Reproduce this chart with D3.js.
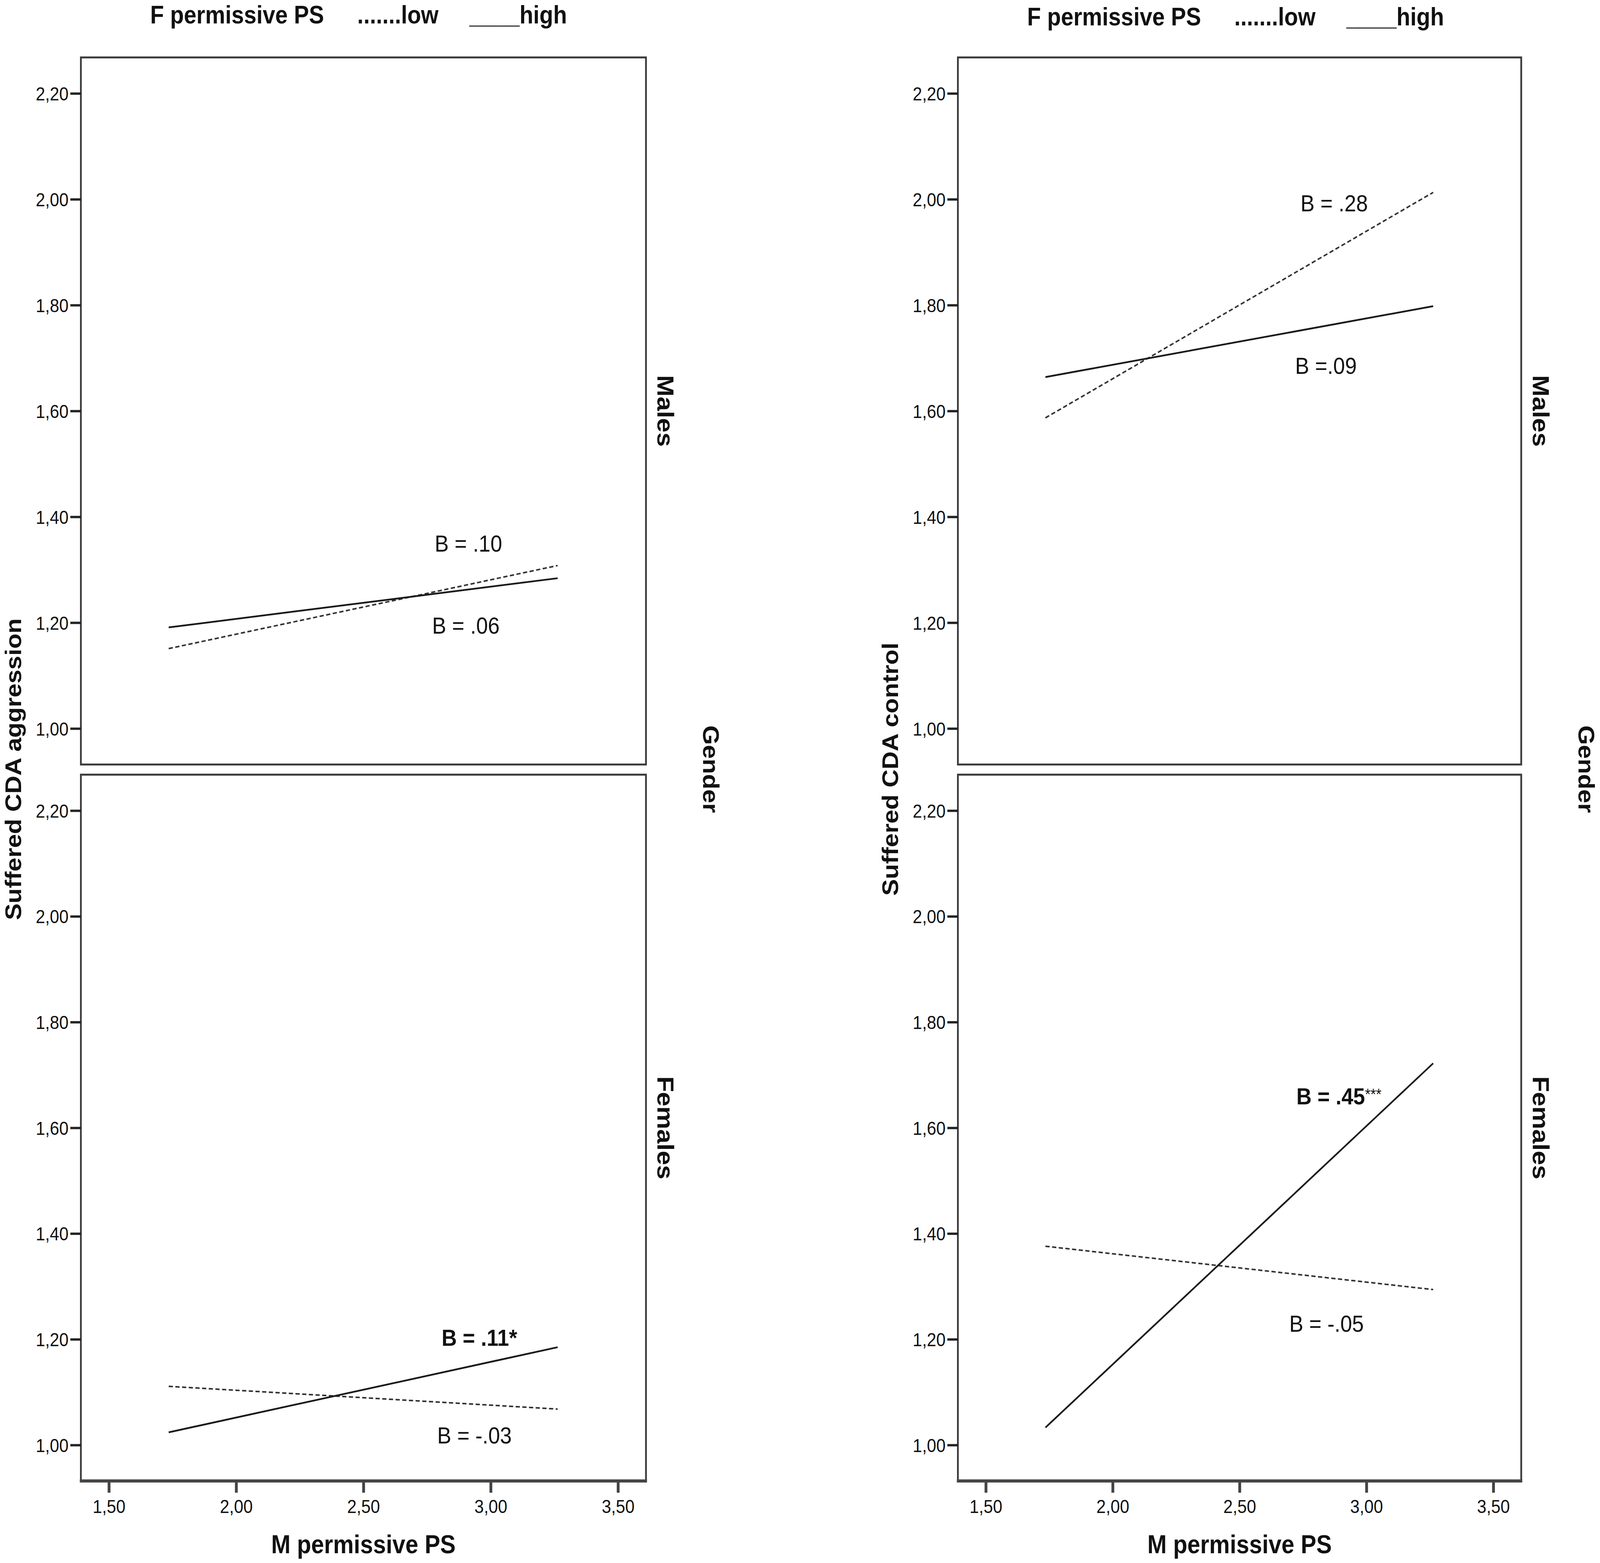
<!DOCTYPE html>
<html>
<head>
<meta charset="utf-8">
<script src="https://cdn.jsdelivr.net/npm/d3@7"></script>
<style>
  html, body { margin: 0; padding: 0; background: #fff; overflow: hidden; }
  svg { display: block; width: 100vw; height: 100vh; }
  svg text { font-family: Arial, "Liberation Sans", sans-serif; fill: #111; }
</style>
</head>
<body>
<svg id="chart"></svg>
<script>
// ---------------- data ----------------
var xTicks = [1.5, 2.0, 2.5, 3.0, 3.5];
var yTicks = [1.0, 1.2, 1.4, 1.6, 1.8, 2.0, 2.2];
var outcomes = ["Suffered CDA aggression", "Suffered CDA control"];
var genders = ["Males", "Females"];
var xTitle = "M permissive PS";
var facetTitle = "Gender";
var legendTitle = "F permissive PS";
var legendLow = ".......low";
var legendHigh = "____high";

// M permissive PS at low (-1 SD) and high (+1 SD)
var mPermissive = [1.735, 3.263];

// predicted outcome at the two M permissive PS values
var aggrMalesLow    = [1.151, 1.308];
var aggrMalesHigh   = [1.191, 1.284];
var aggrFemalesLow  = [1.111, 1.068];
var aggrFemalesHigh = [1.024, 1.185];
var ctrlMalesLow    = [1.587, 2.013];
var ctrlMalesHigh   = [1.664, 1.798];
var ctrlFemalesLow  = [1.376, 1.294];
var ctrlFemalesHigh = [1.033, 1.722];

// slope labels: [column, row, text, stars, bold, x (M PS), y (outcome)]
var slopeNotes = [
  [0, 0, "B = .10", "", false, 2.780, 1.334],
  [0, 0, "B = .06", "", false, 2.770, 1.179],
  [0, 1, "B = .11*", "", true, 2.807, 1.188],
  [0, 1, "B = -.03", "", false, 2.790, 1.003],
  [1, 0, "B = .28", "", false, 2.740, 1.977],
  [1, 0, "B =.09", "", false, 2.719, 1.670],
  [1, 1, "B = .45", "***", true, 2.724, 1.644],
  [1, 1, "B = -.05", "", false, 2.696, 1.214]
];

var series = [
  [aggrMalesLow, aggrMalesHigh, aggrFemalesLow, aggrFemalesHigh],
  [ctrlMalesLow, ctrlMalesHigh, ctrlFemalesLow, ctrlFemalesHigh]
];

// ---------------- layout ----------------
// drawn in a 4550 x 4001 space, stretched onto whatever the window gives
var W = 4550, H = 4001;
var colX = [[230, 1837], [2724, 4326]];
var rowY = [[147, 1957], [1983, 3791]];
var legendBase = [60, 65];

var svg = d3.select("#chart")
  .attr("viewBox", "0 0 " + W + " " + H)
  .attr("preserveAspectRatio", "none");
svg.append("rect").attr("width", W).attr("height", H).attr("fill", "#fff");

var fmt = function (d) { return d3.format(".2f")(d).replace(".", ","); };

colX.forEach(function (cx, c) {
  var x = d3.scaleLinear().domain([1.39, 3.61]).range(cx);

  rowY.forEach(function (ry, r) {
    var y = d3.scaleLinear().domain([0.932, 2.268]).range([ry[1], ry[0]]);
    var g = svg.append("g");

    // frame
    g.append("rect")
      .attr("x", cx[0]).attr("y", ry[0])
      .attr("width", cx[1] - cx[0]).attr("height", ry[1] - ry[0])
      .attr("fill", "none").attr("stroke", "#3a3a3a").attr("stroke-width", 5);

    // y axis
    var ya = g.append("g").attr("transform", "translate(" + cx[0] + ",0)")
      .call(d3.axisLeft(y).tickValues(yTicks).tickSize(30).tickPadding(5).tickFormat(fmt));
    ya.select(".domain").remove();
    ya.selectAll(".tick line").attr("stroke", "#222").attr("stroke-width", 6);
    ya.selectAll(".tick text").attr("font-size", 48).attr("fill", "#111")
      .attr("font-family", "Arial, 'Liberation Sans', sans-serif").attr("dy", "0.36em");

    // x axis on the bottom row
    if (r == 1) {
      var xa = g.append("g").attr("transform", "translate(0," + ry[1] + ")")
        .call(d3.axisBottom(x).tickValues(xTicks).tickSize(30).tickPadding(18).tickFormat(fmt));
      xa.select(".domain").remove();
      xa.selectAll(".tick line").attr("stroke", "#444").attr("stroke-width", 8);
      xa.selectAll(".tick text").attr("font-size", 48).attr("fill", "#111")
        .attr("font-family", "Arial, 'Liberation Sans', sans-serif");
      g.append("line")
        .attr("x1", cx[0] - 3).attr("x2", cx[1] + 3)
        .attr("y1", ry[1]).attr("y2", ry[1])
        .attr("stroke", "#454545").attr("stroke-width", 8);
    }

    // lines: low = dashed, high = solid
    var line = d3.line()
      .x(function (d, i) { return x(mPermissive[i]); })
      .y(function (d) { return y(d); });
    var low = series[c][r * 2], high = series[c][r * 2 + 1];
    g.append("path").datum(low).attr("d", line)
      .attr("fill", "none").attr("stroke", "#333").attr("stroke-width", 4)
      .attr("stroke-dasharray", "12,7");
    g.append("path").datum(high).attr("d", line)
      .attr("fill", "none").attr("stroke", "#1a1a1a").attr("stroke-width", 4.5);

    // slope labels
    slopeNotes.filter(function (n) { return n[0] == c && n[1] == r; })
      .forEach(function (n) {
        var t = g.append("text")
          .attr("x", x(n[5])).attr("y", y(n[6]))
          .attr("font-size", 60)
          .attr("font-weight", n[4] ? "bold" : "normal")
          .text(n[2]);
        if (n[3]) {
          t.append("tspan").attr("font-size", 40).attr("font-weight", "normal")
            .attr("dy", -12).text(n[3]);
        }
      });

    // gender strip label
    svg.append("text")
      .attr("transform", "translate(" + (cx[1] + 33) + "," + ((ry[0] + ry[1]) / 2) + ") rotate(90)")
      .attr("text-anchor", "middle").attr("font-size", 66).attr("font-weight", "bold")
      .text(genders[r]);
  });

  var midY = (rowY[0][0] + rowY[1][1]) / 2;

  // y title
  svg.append("text")
    .attr("transform", "translate(" + (cx[0] - 170) + "," + midY + ") rotate(-90)")
    .attr("text-anchor", "middle").attr("font-size", 64).attr("font-weight", "bold")
    .text(outcomes[c]);

  // facet title
  svg.append("text")
    .attr("transform", "translate(" + (cx[1] + 163) + "," + midY + ") rotate(90)")
    .attr("text-anchor", "middle").attr("font-size", 64).attr("font-weight", "bold")
    .text(facetTitle);

  // x title
  svg.append("text")
    .attr("x", (cx[0] + cx[1]) / 2).attr("y", 3976)
    .attr("text-anchor", "middle").attr("font-size", 66).attr("font-weight", "bold")
    .text(xTitle);

  // legend
  var lg = svg.append("g").attr("font-size", 64).attr("font-weight", "bold");
  lg.append("text").attr("x", cx[0] + 197).attr("y", legendBase[c]).text(legendTitle);
  lg.append("text").attr("x", cx[0] + 786).attr("y", legendBase[c]).text(legendLow);
  lg.append("text").attr("x", cx[0] + 1105).attr("y", legendBase[c]).text(legendHigh);
});
</script>
</body>
</html>
